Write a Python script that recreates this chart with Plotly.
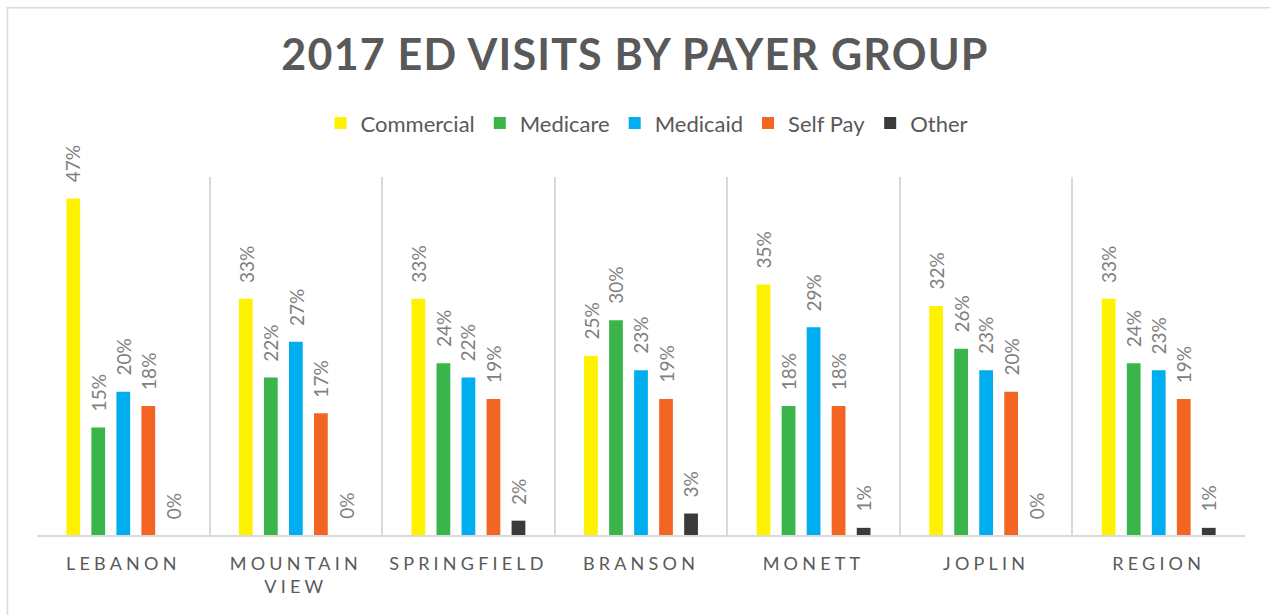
import plotly.graph_objects as go

# Sites (x-axis categories) and their display labels
sites = ["Lebanon", "Mountain View", "Springfield", "Branson", "Monett", "Joplin", "Region"]
site_labels = ["LEBANON", "MOUNTAIN<br>VIEW", "SPRINGFIELD", "BRANSON", "MONETT", "JOPLIN", "REGION"]

# Share of ED visits (%) by payer group
commercial = [47, 33, 33, 25, 35, 32, 33]
medicare = [15, 22, 24, 30, 18, 26, 24]
medicaid = [20, 27, 22, 23, 29, 23, 23]
self_pay = [18, 17, 19, 19, 18, 20, 19]
other = [0, 0, 2, 3, 1, 0, 1]

payers = ["Commercial", "Medicare", "Medicaid", "Self Pay", "Other"]
series = [commercial, medicare, medicaid, self_pay, other]
colors = ["#FFF200", "#39B54A", "#00AEEF", "#F26522", "#3A3A3A"]

FONT = "Lato"
SLOT = 25  # horizontal pitch of bars within a group, px


def spaced(text, px):
    return "<br>".join(
        f"<span style='letter-spacing:{px}px'>{line}</span>" for line in text.split("<br>")
    )


fig = go.Figure()
for name, vals, col in zip(payers, series, colors):
    fig.add_trace(go.Bar(
        x=sites, y=vals, name=name, marker_color=col,
        marker_line_width=0, hoverinfo="skip",
    ))

# Rotated value labels above each bar
annotations = []
for i, vals in enumerate(series):
    for site, v in zip(sites, vals):
        annotations.append(dict(
            x=site, y=v, xref="x", yref="y", text=f"{v}%",
            textangle=-90, showarrow=False, xanchor="center", yanchor="bottom",
            xshift=(i - 2) * SLOT, yshift=14,
            font=dict(family=FONT, size=19, color="#808080"),
        ))

fig.update_layout(
    width=1270, height=615,
    margin=dict(l=37, r=25, t=177, b=80),
    paper_bgcolor="white", plot_bgcolor="white",
    barmode="group", bargap=0.275, bargroupgap=0.45,
    title=dict(
        text=spaced("<b>2017 ED VISITS BY PAYER GROUP</b>", 1.2),
        x=0.5, xanchor="center", y=0.91, yanchor="middle",
        font=dict(family=FONT, size=43, color="#595959"),
    ),
    legend=dict(
        orientation="h", x=0.505, xanchor="center", y=1.15, yanchor="middle",
        font=dict(family=FONT, size=22, color="#595959"),
        itemclick=False, itemdoubleclick=False, traceorder="normal",
    ),
    xaxis=dict(
        tickmode="array", tickvals=sites,
        ticktext=[spaced(t, 4.2) for t in site_labels],
        tickson="boundaries", ticks="", showgrid=True, gridcolor="#D9D9D9", gridwidth=1.5,
        showline=True, linecolor="#D9D9D9", linewidth=2,
        tickfont=dict(family=FONT, size=18, color="#595959"),
        ticklabelstandoff=11,
    ),
    yaxis=dict(range=[0, 50], visible=False, showgrid=False, zeroline=False),
    annotations=annotations,
    shapes=[dict(
        type="rect", xref="paper", yref="paper",
        x0=(7.5 - 37) / 1208, x1=(1300 - 37) / 1208,
        y0=(615 - 700 - 80) / 357.5, y1=(615 - 8.5 - 80) / 357.5,
        line=dict(color="#D9D9D9", width=1.5), fillcolor="rgba(0,0,0,0)", layer="below",
    )],
)

fig.write_html("out.html")
